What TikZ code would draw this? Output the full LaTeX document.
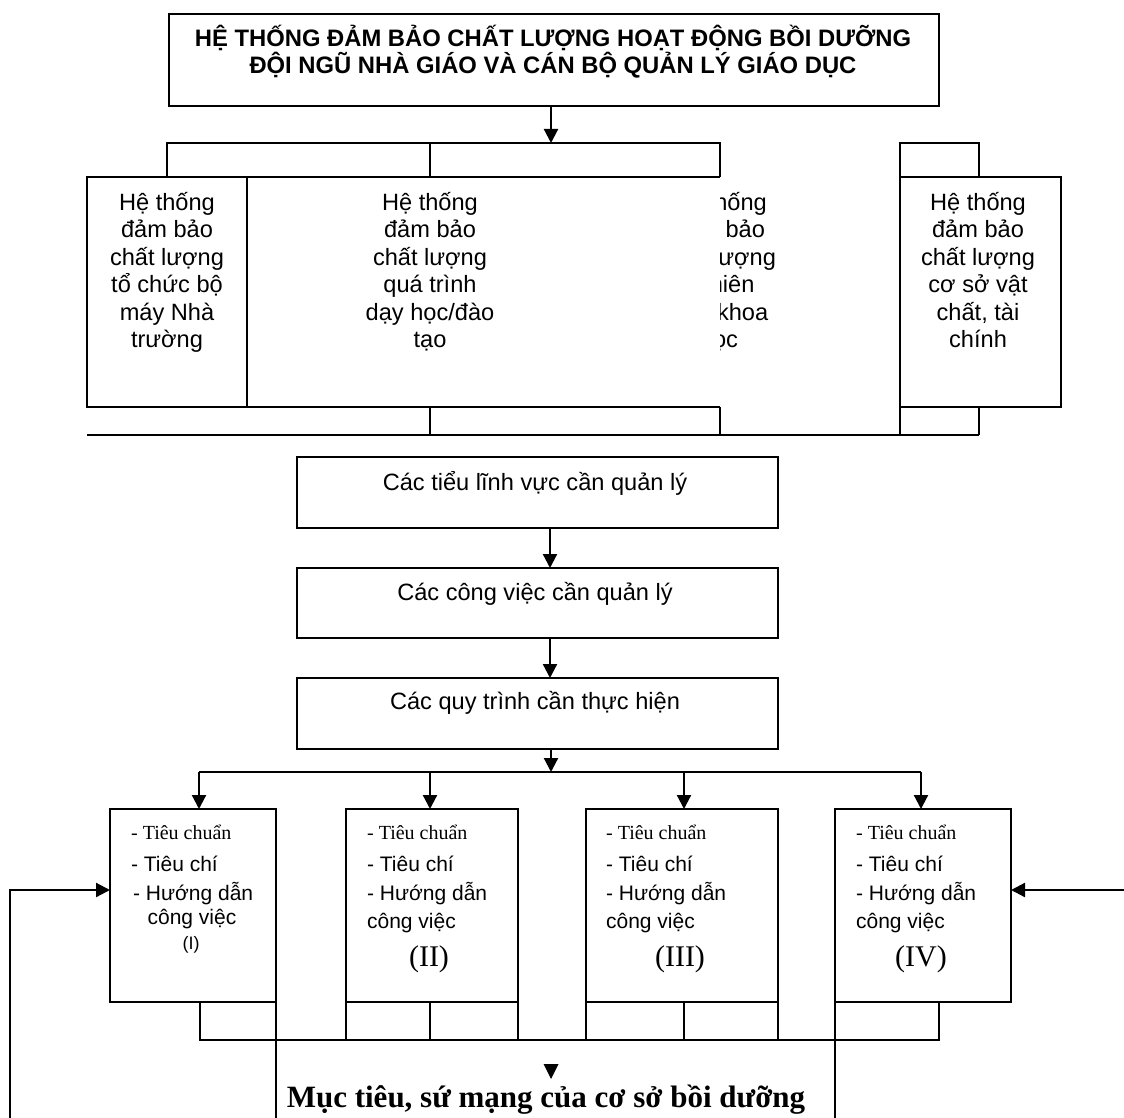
\documentclass[tikz,border=0pt]{standalone}
\usepackage{fontspec}
\setmainfont{Liberation Serif}
\newfontfamily\arialf{Liberation Sans}
\usetikzlibrary{arrows.meta}
\newcommand\mlines[1]{\vtop{\lineskiplimit=-100pt\lineskip=0pt\halign{\hfil##\hfil\cr#1\crcr}}}
\tikzset{
  box/.style={draw, inner sep=0pt, outer sep=0pt, anchor=north west},
  arr/.style={-{Triangle[length=14pt,width=14pt]}},
  rowtext/.style={font=\arialf\fontsize{23.6}{27.5}\selectfont, inner sep=0pt, anchor=base},
  midtext/.style={font=\arialf\fontsize{23.6}{27.5}\selectfont, inner sep=0pt, anchor=base},
  sertext/.style={font=\fontsize{20}{24}\selectfont, inner sep=0pt, anchor=base west},
  artext/.style={font=\arialf\fontsize{21}{25}\selectfont, inner sep=0pt, anchor=base west},
  numtext/.style={font=\fontsize{30}{34}\selectfont, inner sep=0pt, anchor=base},
}
\begin{document}
\begin{tikzpicture}[x=1pt,y=-1pt,line width=2.2pt]
\useasboundingbox (0,0) rectangle (1124,1118);

% title
\node[box, minimum width=770, minimum height=92] (T) at (169,14) {};
\node[font=\arialf\bfseries\fontsize{23.8}{26.6}\selectfont, inner sep=0pt, anchor=base] (Tt) at (553,46.7)
  {\mlines{HỆ THỐNG ĐẢM BẢO CHẤT LƯỢNG HOẠT ĐỘNG BỒI DƯỠNG\cr ĐỘI NGŨ NHÀ GIÁO VÀ CÁN BỘ QUẢN LÝ GIÁO DỤC}};

% first row of boxes
\node[box, minimum width=160, minimum height=230] (A) at (87,177) {};
\node[inner sep=0pt, outer sep=0pt, anchor=north west, minimum width=473, minimum height=230] (B) at (247,177) {};
\draw (B.north west) -- (B.north east);
\draw (B.south west) -- (B.south east);
\node[box, minimum width=161, minimum height=230] (D) at (900,177) {};

\node[rowtext] (At) at (167,210.5) {\mlines{Hệ thống\cr đảm bảo\cr chất lượng\cr tổ chức bộ\cr máy Nhà\cr trường}};
\node[rowtext] (Bt) at (430,210.5) {\mlines{Hệ thống\cr đảm bảo\cr chất lượng\cr quá trình\cr dạy học/đào\cr tạo}};
\begin{scope}
  \clip (720,180) rectangle (898.5,400);
  \node[rowtext] (Ct) at (719,210.5) {\mlines{Hệ thống\cr đảm bảo\cr chất lượng\cr nghiên\cr cứu khoa\cr học}};
\end{scope}
\node[rowtext] (Dt) at (978,210.5) {\mlines{Hệ thống\cr đảm bảo\cr chất lượng\cr cơ sở vật\cr chất, tài\cr chính}};

% top bus
\coordinate (bus1) at (551,143);
\draw[arr] (T.south -| bus1) -- (bus1);
\draw (A.north) |- (720,143) -- (720,177);
\draw (430,143) -- (430,177);
\draw (D.south west) -- (900,435);
\draw (D.north west) -- (900,143) -- (979,143) -- (979,177);

% bottom bus of first row
\draw (87,435) -- (979,435);
\draw (430,407) -- (430,435);
\draw (720,407) -- (720,435);
\draw (979,407) -- (979,435);

% middle column
\coordinate (ax) at (550,0);
\node[box, minimum width=481, minimum height=71] (M1) at (297,457) {};
\node[box, minimum width=481, minimum height=70] (M2) at (297,568) {};
\node[box, minimum width=481, minimum height=71] (M3) at (297,678) {};
\node[midtext] (M1t) at (535,490) {Các tiểu lĩnh vực cần quản lý};
\node[midtext] (M2t) at (535,600) {Các công việc cần quản lý};
\node[midtext] (M3t) at (535,709) {Các quy trình cần thực hiện};
\draw[arr] (M1.south -| ax) -- (M2.north -| ax);
\draw[arr] (M2.south -| ax) -- (M3.north -| ax);
\coordinate (bus2) at (551,772);
\draw[arr] (M3.south -| bus2) -- (bus2);

% lower boxes
\node[box, minimum width=166, minimum height=193] (L1) at (110,809) {};
\node[box, minimum width=172, minimum height=193] (L2) at (346,809) {};
\node[box, minimum width=192, minimum height=193] (L3) at (586,809) {};
\node[box, minimum width=176, minimum height=193] (L4) at (835,809) {};

\draw[line width=1.4pt] (199,772) -- (921,772);
\draw[arr] (199,772) -- (199,809);
\draw[arr] (430,772) -- (430,809);
\draw[arr] (684,772) -- (684,809);
\draw[arr] (921,772) -- (921,809);

% texts of lower boxes
\node[sertext] (l1a) at (130,839) {- Tiêu chuẩn};
\node[artext] (l1b) at (130,871) {- Tiêu chí};
\node[artext] (l1c) at (132,900) {- Hướng dẫn};
\node[artext, anchor=base] (l1d) at (192,924) {công việc};
\node[font=\arialf\fontsize{18}{22}\selectfont, inner sep=0pt, anchor=base] (l1e) at (191,949) {(I)};

\node[sertext] (l2a) at (366,839) {- Tiêu chuẩn};
\node[artext] (l2b) at (366,871) {- Tiêu chí};
\node[artext] (l2c) at (366,900) {- Hướng dẫn};
\node[artext] (l2d) at (366,928) {công việc};
\node[numtext] (l2e) at (429,966) {(II)};

\node[sertext] (l3a) at (605,839) {- Tiêu chuẩn};
\node[artext] (l3b) at (605,871) {- Tiêu chí};
\node[artext] (l3c) at (605,900) {- Hướng dẫn};
\node[artext] (l3d) at (605,928) {công việc};
\node[numtext] (l3e) at (680,966) {(III)};

\node[sertext] (l4a) at (855,839) {- Tiêu chuẩn};
\node[artext] (l4b) at (855,871) {- Tiêu chí};
\node[artext] (l4c) at (855,900) {- Hướng dẫn};
\node[artext] (l4d) at (855,928) {công việc};
\node[numtext] (l4e) at (921,966) {(IV)};

% feedback arrows
\coordinate (fb) at (0,890);
\draw[arr] (10,1118) -- (10,890) -- (L1.west |- fb);
\draw[arr] (1124,890) -- (L4.east |- fb);
\draw (L1.south east) -- (276,1118);
\draw (L4.south west) -- (835,1118);

% bottom bus
\draw (200,1002) -- (200,1040) -- (939,1040) -- (939,1002);
\draw (L2.south west) -- (346,1040);
\draw (430,1002) -- (430,1040);
\draw (L2.south east) -- (518,1040);
\draw (L3.south west) -- (586,1040);
\draw (684,1002) -- (684,1040);
\draw (L3.south east) -- (778,1040);

% goal
\fill (543.5,1064) -- (558.5,1064) -- (551,1079) -- cycle;
\node[font=\bfseries\fontsize{31}{35}\selectfont, inner sep=0pt, anchor=base] (goal) at (546,1107) {Mục tiêu, sứ mạng của cơ sở bồi dưỡng};
\end{tikzpicture}
\end{document}
